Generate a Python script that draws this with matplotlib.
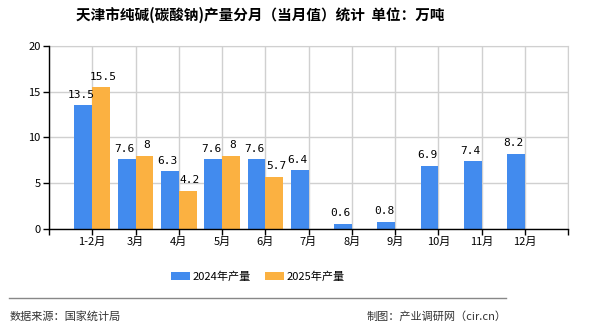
import numpy as np
import matplotlib
matplotlib.use('Agg')
from matplotlib import pyplot as plt

plt.rcParams['font.family'] = ['Noto Sans CJK SC', 'DejaVu Sans']

months = ['1-2月', '3月', '4月', '5月', '6月', '7月', '8月', '9月', '10月', '11月', '12月']
prod_2024 = [13.5, 7.6, 6.3, 7.6, 7.6, 6.4, 0.6, 0.8, 6.9, 7.4, 8.2]
prod_2025 = [15.5, 8, 4.2, 8, 5.7]
labels_2024 = ['13.5', '7.6', '6.3', '7.6', '7.6', '6.4', '0.6', '0.8', '6.9', '7.4', '8.2']
labels_2025 = ['15.5', '8', '4.2', '8', '5.7']

blue = '#428bee'
orange = '#fbb141'

fig = plt.figure(figsize=(5.9, 3.3), dpi=100)
ax = fig.add_axes([0.083, 0.306, 0.88, 0.555])

x = np.arange(len(months))
w = 0.41
ax.bar(x - w / 2, prod_2024, w, color=blue, label='2024年产量', zorder=3)
ax.bar(x[:len(prod_2025)] + w / 2, prod_2025, w, color=orange, label='2025年产量', zorder=3)

for xi, v, t in zip(x, prod_2024, labels_2024):
    ax.text(xi - w / 2 - 0.05, v + 0.6, t, ha='center', va='bottom', fontsize=8,
            family='DejaVu Sans Mono', zorder=4)
for xi, v, t in zip(x, prod_2025, labels_2025):
    ax.text(xi + w / 2 + 0.05, v + 0.6, t, ha='center', va='bottom', fontsize=8,
            family='DejaVu Sans Mono', zorder=4)

ax.set_xlim(-1, len(months))
ax.set_ylim(0, 20)
ax.set_yticks([0, 5, 10, 15, 20])
ax.set_xticks(np.arange(-1, len(months) + 1))
ax.set_xticklabels([''] + months + [''], fontsize=8)
ax.tick_params(axis='y', labelsize=8, length=4, width=1, pad=2)
ax.tick_params(axis='x', length=4, width=1, pad=2)
ax.grid(True, color='#d0d0d0', linewidth=1, zorder=0)
for s in ['top', 'right']:
    ax.spines[s].set_color('#d0d0d0')
for s in ['left', 'bottom']:
    ax.spines[s].set_color('black')
    ax.spines[s].set_linewidth(1)
    ax.spines[s].set_zorder(5)

fig.text(0.441, 0.955, '天津市纯碱(碳酸钠)产量分月（当月值）统计  单位：万吨',
         ha='center', va='center', fontsize=10.5, fontweight='bold')

fig.legend(loc='center', bbox_to_anchor=(0.437, 0.162), ncol=2, frameon=False,
           fontsize=8, handlelength=1.7, handleheight=0.65, columnspacing=1.3,
           handletextpad=0.2)

fig.add_artist(plt.Line2D([0.015, 0.858], [0.097, 0.097], color='#888888', linewidth=1))
fig.text(0.017, 0.042, '数据来源：国家统计局', ha='left', va='center', fontsize=8, color='#333333')
fig.text(0.858, 0.042, '制图：产业调研网（cir.cn）', ha='right', va='center', fontsize=8, color='#333333')

fig.savefig('out.png', dpi=100)
